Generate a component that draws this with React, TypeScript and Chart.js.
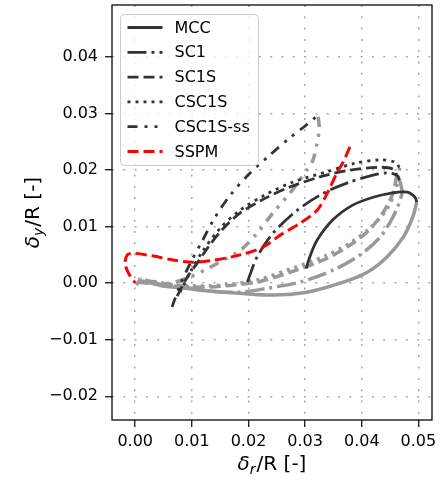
import React, { useEffect, useRef } from 'react';
import { Chart, registerables } from 'chart.js';

Chart.register(...registerables);

// ---- axis ranges / ticks ----
const X_MIN = -0.0041;
const X_MAX = 0.0524;
const Y_MIN = -0.0242;
const Y_MAX = 0.0492;
const xTickValues = [0, 0.01, 0.02, 0.03, 0.04, 0.05];
const yTickValues = [-0.02, -0.01, 0, 0.01, 0.02, 0.03, 0.04];

const seriesNames = ['MCC', 'SC1', 'SC1S', 'CSC1S', 'CSC1S-ss', 'SSPM'];

// ---- MCC ----
const mccLoadX = [0.0302, 0.0308, 0.0321, 0.0349, 0.0384, 0.042, 0.045, 0.048, 0.0494, 0.0497];
const mccLoadY = [0.0026, 0.0046, 0.0076, 0.0112, 0.0138, 0.0152, 0.0159, 0.0161, 0.0152, 0.0143];
const mccLoopX = [0.0497, 0.049, 0.0473, 0.0444, 0.0409, 0.0362, 0.0303, 0.0243, 0.0185, 0.0132, 0.0088, 0.0044, 0.0009, 0.0002];
const mccLoopY = [0.0143, 0.0117, 0.0081, 0.0046, 0.0019, 0.0, -0.0016, -0.0021, -0.0018, -0.0014, -0.0009, -0.0004, 0.0004, -0.0003];

// ---- SC1 ----
const sc1LoadX = [0.0198, 0.0215, 0.0243, 0.0286, 0.0332, 0.0379, 0.042, 0.0444, 0.0462, 0.0467];
const sc1LoadY = [0.0002, 0.0046, 0.0088, 0.0129, 0.0159, 0.0179, 0.0191, 0.0195, 0.0191, 0.0182];
const sc1LoopX = [0.0467, 0.0471, 0.0455, 0.0432, 0.0397, 0.0349, 0.0291, 0.0233, 0.0185, 0.0132, 0.0088, 0.0044, 0.0009];
const sc1LoopY = [0.0182, 0.0159, 0.0117, 0.0081, 0.005, 0.0023, 0.0002, -0.0009, -0.0016, -0.0014, -0.0007, -0.0002, 0.0004];

// ---- SC1S ----
const sc1sLoadX = [0.0074, 0.0092, 0.0109, 0.0129, 0.0153, 0.0185, 0.0229, 0.0273, 0.0326, 0.0379, 0.0432, 0.0455, 0.0462];
const sc1sLoadY = [-0.0023, 0.0011, 0.0035, 0.0064, 0.0094, 0.0124, 0.015, 0.017, 0.0188, 0.02, 0.0205, 0.0202, 0.0191];
const sc1sLoopX = [0.0462, 0.0455, 0.0437, 0.0409, 0.0374, 0.0332, 0.0273, 0.0215, 0.0168, 0.0115, 0.0071, 0.0035, 0.0009];
const sc1sLoopY = [0.0191, 0.0159, 0.0124, 0.009, 0.0064, 0.0041, 0.0019, 0.0002, -0.0004, -0.0007, -0.0004, 0.0002, 0.0007];

// ---- CSC1S ----
const csc1sLoadX = [0.0079, 0.0097, 0.012, 0.015, 0.0185, 0.0229, 0.0279, 0.0335, 0.0388, 0.0432, 0.0459, 0.0467];
const csc1sLoadY = [-0.0016, 0.0019, 0.0058, 0.0097, 0.0129, 0.0156, 0.0179, 0.0196, 0.0212, 0.0218, 0.0214, 0.0204];
const csc1sLoopX = [0.0467, 0.046, 0.0443, 0.0414, 0.0379, 0.0335, 0.0279, 0.022, 0.0168, 0.0115, 0.0062, 0.0026, 0.0005];
const csc1sLoopY = [0.0204, 0.0165, 0.0129, 0.0097, 0.0071, 0.0048, 0.0027, 0.0007, -0.0002, -0.0005, -0.0002, 0.0004, 0.0007];

// ---- CSC1S-ss ----
const csc1sssLoadX = [0.0065, 0.0079, 0.0097, 0.0117, 0.014, 0.0168, 0.0201, 0.0238, 0.0273, 0.03, 0.0319];
const csc1sssLoadY = [-0.0042, -0.0004, 0.0035, 0.0072, 0.0115, 0.0156, 0.0193, 0.0227, 0.0257, 0.0278, 0.0294];
const csc1sssLoopX = [0.0323, 0.0325, 0.0321, 0.0314, 0.0303, 0.0273, 0.0243, 0.0215, 0.0185, 0.0132, 0.0097, 0.0062, 0.0026, 0.0004];
const csc1sssLoopY = [0.0294, 0.0273, 0.0248, 0.0218, 0.02, 0.0159, 0.0124, 0.0088, 0.0058, 0.0028, 0.0011, 0.0, 0.0, 0.0002];

// ---- SSPM ----
const sspmX = [0.0379, 0.0367, 0.0356, 0.0339, 0.0321, 0.0291, 0.0256, 0.0226, 0.0185, 0.0141, 0.0102, 0.0062, 0.0032, -0.0004, -0.0014, -0.0018, -0.0012, 0.0];
const sspmY = [0.0241, 0.0214, 0.0195, 0.0159, 0.0129, 0.0106, 0.0085, 0.0064, 0.005, 0.0041, 0.0037, 0.0042, 0.0048, 0.0053, 0.005, 0.0035, 0.0018, 0.0];

// ---- styles ----
const BLACK = '#333333';
const GRAY = '#999999';
const RED = '#ff0000';
const dashes: Record<string, number[]> = {
  MCC: [],
  SC1: [19, 5, 3, 5],
  SC1S: [11, 5],
  CSC1S: [3, 5],
  'CSC1S-ss': [10, 7, 3, 7, 3, 7],
  SSPM: [11, 5],
};

const FONT = '"DejaVu Sans", "Liberation Sans", sans-serif';

function pts(xs: number[], ys: number[]) {
  return xs.map((x, i) => ({ x, y: ys[i] }));
}

function lineDs(xs: number[], ys: number[], color: string, width: number, dash: number[], order: number) {
  return {
    data: pts(xs, ys),
    showLine: true,
    borderColor: color,
    backgroundColor: color,
    borderWidth: width,
    borderDash: dash,
    pointRadius: 0,
    pointHoverRadius: 0,
    tension: 0.3,
    fill: false,
    order,
  };
}

function fmt(v: number) {
  return v.toFixed(2).replace('-', '\u2212');
}

function drawMathLabel(ctx: CanvasRenderingContext2D, sub: string, cx: number, baseY: number) {
  const big = 20;
  const small = 14;
  const fItalic = `italic ${big}px ${FONT}`;
  const fSub = `italic ${small}px ${FONT}`;
  const fNorm = `${big}px ${FONT}`;
  const rest = '/R [-]';
  ctx.font = fItalic;
  const w1 = ctx.measureText('\u03b4').width;
  ctx.font = fSub;
  const w2 = ctx.measureText(sub).width;
  ctx.font = fNorm;
  const w3 = ctx.measureText(rest).width;
  const total = w1 + w2 + w3 + 1;
  let x = cx - total / 2;
  ctx.textAlign = 'left';
  ctx.textBaseline = 'alphabetic';
  ctx.fillStyle = '#000';
  ctx.font = fItalic;
  ctx.fillText('\u03b4', x, baseY);
  x += w1;
  ctx.font = fSub;
  ctx.fillText(sub, x, baseY + 4);
  x += w2 + 1;
  ctx.font = fNorm;
  ctx.fillText(rest, x, baseY);
}

const decorPlugin = {
  id: 'decor',
  afterDraw(chart: any) {
    const { ctx, chartArea: a } = chart;
    ctx.save();
    ctx.setLineDash([]);
    // frame
    ctx.strokeStyle = '#000';
    ctx.lineWidth = 1.25;
    ctx.strokeRect(a.left, a.top, a.right - a.left, a.bottom - a.top);

    // legend
    const lx = a.left + 8.5;
    const ly = a.top + 9.5;
    const lw = 138;
    const lh = 151;
    ctx.beginPath();
    if (ctx.roundRect) ctx.roundRect(lx, ly, lw, lh, 4);
    else ctx.rect(lx, ly, lw, lh);
    ctx.fillStyle = 'rgba(255,255,255,0.8)';
    ctx.fill();
    ctx.strokeStyle = '#cccccc';
    ctx.lineWidth = 1;
    ctx.stroke();
    seriesNames.forEach((name, i) => {
      const yy = ly + 13 + i * 24.8;
      ctx.beginPath();
      ctx.setLineDash(dashes[name]);
      ctx.strokeStyle = name === 'SSPM' ? RED : BLACK;
      ctx.lineWidth = 2.8;
      ctx.moveTo(lx + 7, yy);
      ctx.lineTo(lx + 42, yy);
      ctx.stroke();
      ctx.setLineDash([]);
      ctx.fillStyle = '#000';
      ctx.font = `16px ${FONT}`;
      ctx.textBaseline = 'middle';
      ctx.textAlign = 'left';
      ctx.fillText(name, lx + 54, yy + 1);
    });

    // axis titles
    drawMathLabel(ctx, 'r', (a.left + a.right) / 2, 470);
    ctx.save();
    ctx.translate(39, (a.top + a.bottom) / 2);
    ctx.rotate(-Math.PI / 2);
    drawMathLabel(ctx, 'y', 0, 0);
    ctx.restore();
    ctx.restore();
  },
};

export default function App() {
  const ref = useRef<HTMLCanvasElement | null>(null);
  useEffect(() => {
    document.body.style.margin = '0';
    const canvas = ref.current;
    if (!canvas) return;
    const datasets: any[] = [
      lineDs(mccLoopX, mccLoopY, GRAY, 3.5, dashes.MCC, 3),
      lineDs(sc1LoopX, sc1LoopY, GRAY, 3.5, dashes.SC1, 3),
      lineDs(sc1sLoopX, sc1sLoopY, GRAY, 3.5, dashes.SC1S, 3),
      lineDs(csc1sLoopX, csc1sLoopY, GRAY, 3.5, dashes.CSC1S, 3),
      lineDs(csc1sssLoopX, csc1sssLoopY, GRAY, 3.5, dashes['CSC1S-ss'], 3),
      lineDs(mccLoadX, mccLoadY, BLACK, 2.8, dashes.MCC, 1),
      lineDs(sc1LoadX, sc1LoadY, BLACK, 2.8, dashes.SC1, 1),
      lineDs(sc1sLoadX, sc1sLoadY, BLACK, 2.8, dashes.SC1S, 1),
      lineDs(csc1sLoadX, csc1sLoadY, BLACK, 2.8, dashes.CSC1S, 1),
      lineDs(csc1sssLoadX, csc1sssLoadY, BLACK, 2.8, dashes['CSC1S-ss'], 1),
      lineDs(sspmX, sspmY, RED, 3, dashes.SSPM, 0),
    ];
    const tickFont = { family: FONT, size: 16 };
    const gridOpts = { color: '#a8a8a8', lineWidth: 1.5, tickColor: '#000', tickLength: 7, tickWidth: 1.2 };
    const chart = new Chart(canvas, {
      type: 'scatter',
      data: { datasets },
      options: {
        animation: false,
        responsive: false,
        events: [],
        layout: { padding: { top: 5, right: 8, left: 0, bottom: 0 } },
        plugins: { legend: { display: false }, tooltip: { enabled: false }, title: { display: false } },
        scales: {
          x: {
            type: 'linear',
            min: X_MIN,
            max: X_MAX,
            afterBuildTicks: (s: any) => {
              s.ticks = xTickValues.map((v) => ({ value: v }));
            },
            afterFit: (s: any) => {
              s.height = 64;
              s.paddingLeft = 0;
              s.paddingRight = 0;
            },
            grid: gridOpts,
            border: { display: false, dash: [2, 9.3] },
            ticks: {
              font: tickFont,
              color: '#000',
              padding: 5,
              maxRotation: 0,
              autoSkip: false,
              callback: (v: any) => fmt(Number(v)),
            },
          },
          y: {
            type: 'linear',
            min: Y_MIN,
            max: Y_MAX,
            afterBuildTicks: (s: any) => {
              s.ticks = yTickValues.map((v) => ({ value: v }));
            },
            afterFit: (s: any) => {
              s.width = 112;
              s.paddingTop = 0;
              s.paddingBottom = 0;
            },
            grid: gridOpts,
            border: { display: false, dash: [2, 9.3] },
            ticks: {
              font: tickFont,
              color: '#000',
              padding: 7,
              autoSkip: false,
              callback: (v: any) => fmt(Number(v)),
            },
          },
        },
      },
      plugins: [decorPlugin],
    } as any);
    return () => chart.destroy();
  }, []);
  return (
    <div style={{ width: 440, height: 484, background: '#fff' }}>
      <canvas ref={ref} width={440} height={484} style={{ display: 'block' }} />
    </div>
  );
}
